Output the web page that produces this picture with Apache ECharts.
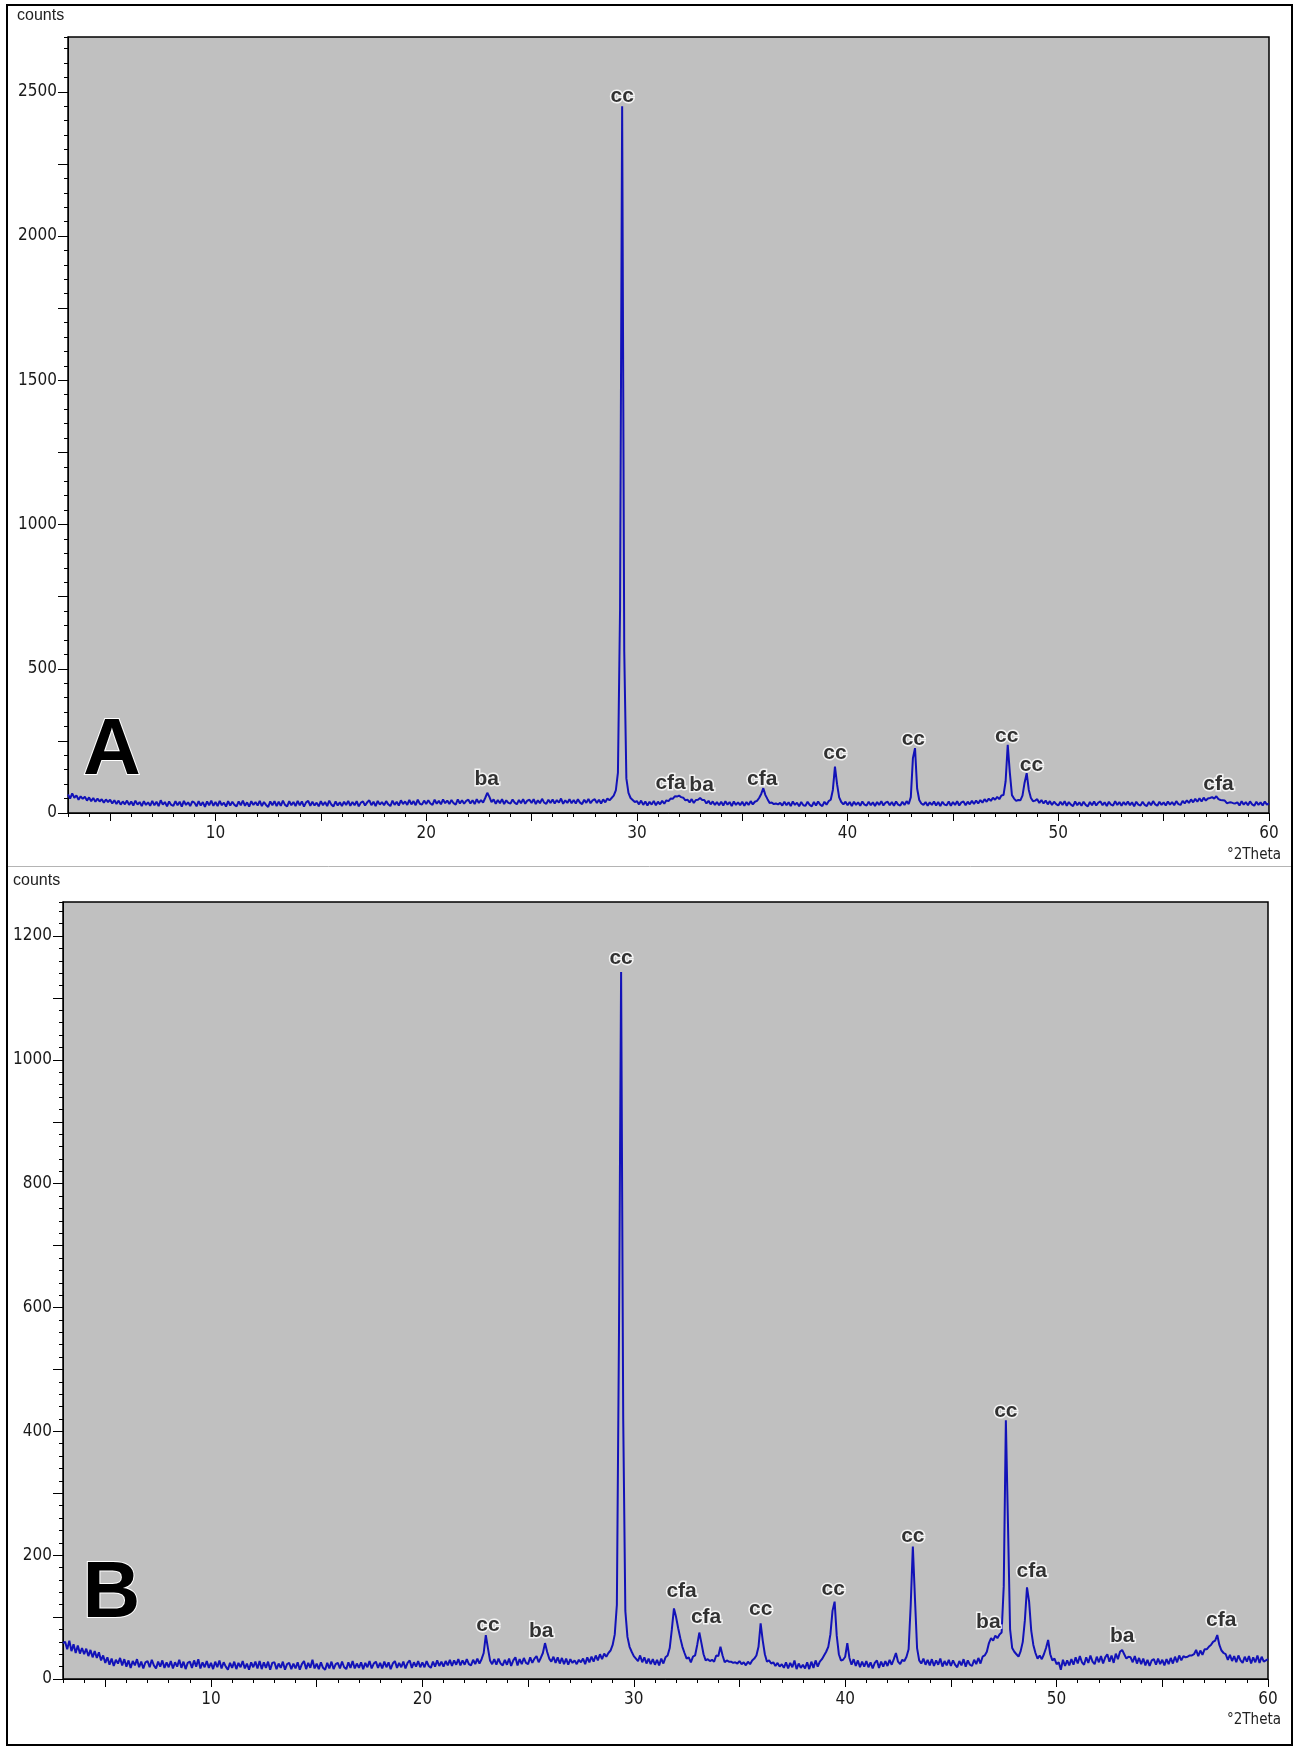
<!DOCTYPE html>
<html><head><meta charset="utf-8">
<script src="https://cdn.jsdelivr.net/npm/echarts@6/dist/echarts.min.js"></script>
<style>html,body{margin:0;padding:0;background:#fff}#c{width:1298px;height:1749px}</style>
</head><body><div id="c"></div><script>
// 2theta step-scan grid (degrees)
const twoThetaStart = 3.0;
const twoThetaStep = 0.1;

// Panel A counts, 3.0 .. 60.0 in 0.1 deg steps (one row per degree)
const countsA = [
64,50,68,53,61,46,58,49,56,43,
54,41,52,39,50,40,48,36,47,38,
46,33,44,31,43,29,40,30,43,28,
40,26,43,29,38,24,41,28,37,25,
42,27,39,24,44,29,38,23,40,28,
25,41,27,39,22,42,28,37,24,40,
36,23,41,26,38,21,40,27,43,25,
38,24,42,27,36,22,41,26,39,28,
23,40,27,43,25,37,22,41,28,38,
26,42,24,38,28,21,40,27,41,24,
39,25,43,28,23,41,27,38,24,42,
27,40,22,37,42,25,39,26,36,23,
41,27,38,24,43,29,23,40,26,37,
24,39,28,42,25,38,27,41,23,36,
40,26,37,44,27,39,24,42,29,38,
27,41,30,24,43,28,39,26,44,31,
40,28,45,30,41,27,46,32,29,43,
31,44,33,28,46,32,42,30,47,34,
43,31,45,34,29,47,33,44,32,42,
46,33,44,31,48,35,45,36,52,70,
56,38,47,32,45,34,48,31,44,35,
33,47,36,30,45,34,48,32,43,46,
35,48,31,44,34,49,36,32,46,35,
47,33,45,36,50,32,44,35,48,34,
45,33,48,36,31,46,35,49,34,44,
48,35,46,33,47,37,50,44,52,60,
78,140,700,2450,560,120,70,52,45,38,
41,30,43,28,40,26,39,29,42,27,
39,30,42,32,44,41,50,49,58,57,
60,55,53,44,46,37,48,35,45,46,
52,45,45,33,42,30,40,28,38,27,
39,26,41,29,38,24,40,28,37,27,
39,25,38,28,41,30,39,42,52,66,
86,62,48,35,36,31,33,30,35,26,
39,27,37,24,40,28,36,23,38,27,
25,39,28,23,38,26,40,29,24,39,
29,41,46,80,161,100,54,38,30,39,
27,38,24,39,28,37,25,40,29,26,
39,27,37,24,38,28,41,26,36,39,
27,38,25,40,29,26,39,28,41,31,
55,190,225,85,45,33,28,38,25,37,
28,40,26,38,24,39,29,27,40,25,
38,28,41,26,37,40,27,39,30,42,
31,43,33,45,36,48,39,50,42,53,
46,56,48,61,62,110,236,140,62,50,
42,45,44,60,105,138,80,52,41,43,
48,35,45,33,43,30,41,28,39,31,
26,39,28,41,25,38,29,24,40,27,
37,25,39,28,23,38,27,40,26,36,
40,27,37,24,39,29,26,41,28,38,
25,38,28,40,27,37,23,39,29,26,
39,28,24,38,27,41,30,25,39,28,
37,26,40,29,38,27,41,31,28,42,
33,44,35,47,37,49,39,51,40,53,
43,50,52,55,50,58,48,45,44,43,
34,36,37,34,33,37,26,41,29,38,
27,40,30,25,39,28,37,26,40,29,
33
];

// Panel B counts, 3.0 .. 60.0 in 0.1 deg steps
const countsB = [
58,60,48,62,45,56,42,54,41,50,
40,49,37,47,35,45,34,43,30,38,
26,35,23,33,21,31,25,34,22,32,
20,30,18,29,22,32,19,28,17,27,
29,19,31,22,17,28,20,30,18,27,
19,29,17,27,20,31,18,28,16,26,
28,18,30,20,32,17,27,19,29,18,
26,16,28,19,30,17,27,20,15,26,
18,28,16,26,19,29,17,25,15,27,
19,28,17,29,16,27,18,28,15,26,
27,16,25,18,28,15,24,26,16,25,
17,27,15,24,29,16,26,18,31,17,
25,16,27,18,15,26,17,28,16,24,
26,17,28,19,16,27,18,29,17,25,
18,27,16,26,19,29,17,25,28,18,
26,17,28,19,27,16,25,29,18,26,
19,28,17,26,30,18,27,20,29,19,
27,19,29,21,18,28,20,30,21,28,
20,29,22,31,21,30,23,32,22,30,
23,32,24,22,31,24,33,25,32,42,
71,50,30,24,32,23,33,25,22,31,
23,33,21,30,35,22,32,24,34,26,
24,35,26,33,37,27,34,42,58,44,
33,28,36,26,35,25,34,24,33,23,
32,26,30,24,31,27,33,24,35,27,
36,28,38,30,40,32,41,36,42,46,
55,72,120,560,1142,420,110,68,52,44,
37,33,29,38,27,35,25,33,24,32,
23,31,22,33,25,35,38,50,80,114,
100,82,66,52,42,33,35,27,36,38,
55,75,58,40,30,32,29,31,28,38,
37,52,38,27,30,28,28,26,27,25,
29,24,27,22,28,24,30,33,38,52,
90,62,40,28,30,25,27,21,26,20,
24,18,27,17,26,19,30,16,25,18,
23,17,27,16,28,18,30,20,28,32,
38,44,52,72,110,125,70,40,30,31,
36,58,34,23,32,21,30,19,28,20,
29,19,27,17,26,30,18,28,20,29,
21,31,23,32,42,28,24,31,29,36,
48,120,214,130,50,30,25,33,23,31,
22,32,21,30,23,33,20,29,22,31,
21,30,23,19,29,22,32,20,30,23,
21,31,24,34,25,36,38,44,58,66,
62,70,66,72,75,150,418,250,80,50,
44,40,36,45,60,95,148,125,78,55,
42,33,38,32,40,50,63,40,30,33,
24,27,15,31,21,30,22,32,23,35,
25,37,27,23,35,26,38,28,24,36,
27,37,25,35,40,28,38,26,41,32,
44,47,40,33,36,35,27,37,25,34,
24,33,22,31,21,30,32,23,33,24,
31,22,32,24,34,25,36,27,38,30,
37,35,36,38,38,40,47,37,46,39,
48,48,52,55,60,62,71,55,46,42,
40,31,39,29,37,27,38,30,26,36,
28,37,25,35,27,38,26,36,28,30,
32
];

// Axis ticks / labels
const xTickValues = [5,10,15,20,25,30,35,40,45,50,55,60];
const xLabelValues = [10,20,30,40,50,60];
const yTickValuesA = [0,250,500,750,1000,1250,1500,1750,2000,2250,2500];
const yLabelValuesA = [0,500,1000,1500,2000,2500];
const yTickValuesB = [0,100,200,300,400,500,600,700,800,900,1000,1100,1200];
const yLabelValuesB = [0,200,400,600,800,1000,1200];
const yMaxA = 2690;
const yMaxB = 1255;

// Phase annotations (name, 2theta, counts at label centre)
const peakNamesA = ['ba','cc','cfa','ba','cfa','cc','cc','cc','cc','cfa'];
const peakLabelXA = [22.87,29.3,31.6,33.07,35.95,39.4,43.12,47.55,48.73,57.6];
const peakLabelYA = [118,2484,105,95,117,207,256,267,166,100];
const peakNamesB = ['cc','ba','cc','cfa','cfa','cc','cc','cc','ba','cc','cfa','ba','cfa'];
const peakLabelXB = [23.1,25.62,29.4,32.26,33.42,36.0,39.43,43.2,46.77,47.6,48.82,53.1,57.79];
const peakLabelYB = [87,77,1165,142,100,113,145,231,91,433,174,69,95];

const narrow = "'Liberation Sans Narrow','DejaVu Sans Condensed','Liberation Sans',sans-serif";
const sans = "'Liberation Sans',Arial,sans-serif";

function pts(arr){ return arr.map((v,i)=>[+(twoThetaStart+i*twoThetaStep).toFixed(2), v]); }
function labelPts(xs, ys, names){ return xs.map((x,i)=>[x, ys[i], names[i]]); }

const tickStyle = {color:'#000', width:1};
function mainX(grid){
  return {gridIndex:grid, type:'value', position:'bottom', min:3, max:60,
    axisLine:{show:true, onZero:false, lineStyle:{color:'#000', width:1}},
    axisTick:{show:true, customValues:xTickValues, length:8, lineStyle:tickStyle},
    axisLabel:{show:true, customValues:xLabelValues, margin:12, color:'#1a1a1a', fontSize:17, fontFamily:narrow, formatter:v=>String(v)},
    splitLine:{show:false}};
}
function minorX(grid){
  return {gridIndex:grid, type:'value', position:'bottom', min:3, max:60, interval:1,
    axisLine:{show:false, onZero:false},
    axisTick:{show:true, length:4, lineStyle:tickStyle},
    axisLabel:{show:false}, splitLine:{show:false}};
}
function mainY(grid, max, interval, ticks, labels){
  return {gridIndex:grid, type:'value', position:'left', min:0, max:max, interval:interval,
    axisLine:{show:true, onZero:false, lineStyle:{color:'#000', width:1}},
    axisTick:{show:true, customValues:ticks, length:10, lineStyle:tickStyle},
    axisLabel:{show:true, customValues:labels, margin:11, color:'#1a1a1a', fontSize:17, fontFamily:narrow, formatter:v=>String(v)},
    splitLine:{show:false}};
}
function minorY(grid, max, interval){
  return {gridIndex:grid, type:'value', position:'left', min:0, max:max, interval:interval,
    axisLine:{show:false, onZero:false},
    axisTick:{show:true, length:4, lineStyle:tickStyle},
    axisLabel:{show:false}, splitLine:{show:false}};
}
function labelSeries(xi, yi, data){
  return {type:'scatter', xAxisIndex:xi, yAxisIndex:yi, data:data, symbol:'circle', symbolSize:1,
    itemStyle:{color:'rgba(0,0,0,0)'}, z:6, silent:true,
    label:{show:true, position:'inside', formatter:p=>p.value[2], color:'#000',
      fontFamily:sans, fontWeight:'bold', fontSize:21, textBorderColor:'#fff', textBorderWidth:3}};
}
const traceStyle = {color:'#1212b8', width:2};

const chart = echarts.init(document.getElementById('c'), null, {renderer:'canvas'});
chart.setOption({
  animation:false,
  backgroundColor:'#fff',
  grid:[
    {left:68, top:37, width:1201, height:776, show:true, backgroundColor:'#c0c0c0', borderColor:'#000', borderWidth:1.5, containLabel:false},
    {left:63, top:902, width:1205, height:777, show:true, backgroundColor:'#c0c0c0', borderColor:'#000', borderWidth:1.5, containLabel:false}
  ],
  xAxis:[mainX(0), minorX(0), mainX(1), minorX(1)],
  yAxis:[mainY(0, yMaxA, 250, yTickValuesA, yLabelValuesA), minorY(0, yMaxA, 50),
         mainY(1, yMaxB, 100, yTickValuesB, yLabelValuesB), minorY(1, yMaxB, 20)],
  series:[
    {type:'line', xAxisIndex:0, yAxisIndex:0, data:pts(countsA), showSymbol:false, symbol:'none',
      lineStyle:traceStyle, z:3, silent:true, sampling:null},
    {type:'line', xAxisIndex:2, yAxisIndex:2, data:pts(countsB), showSymbol:false, symbol:'none',
      lineStyle:traceStyle, z:3, silent:true, sampling:null},
    labelSeries(0, 0, labelPts(peakLabelXA, peakLabelYA, peakNamesA)),
    labelSeries(2, 2, labelPts(peakLabelXB, peakLabelYB, peakNamesB))
  ],
  graphic:[
    {type:'rect', z:0, silent:true, shape:{x:7, y:5, width:1285, height:1740}, style:{fill:null, stroke:'#000', lineWidth:2}},
    {type:'line', z:0, silent:true, shape:{x1:8, y1:866.5, x2:1291, y2:866.5}, style:{stroke:'#b4b4b4', lineWidth:1}},
    {type:'text', z:10, silent:true, style:{x:17, y:16, text:'counts', font:"16px "+sans, fill:'#222', textVerticalAlign:'middle'}},
    {type:'text', z:10, silent:true, style:{x:13, y:881, text:'counts', font:"16px "+sans, fill:'#222', textVerticalAlign:'middle'}},
    {type:'text', z:10, silent:true, style:{x:1281, y:855, text:'°2Theta', font:"15px "+narrow, fill:'#222', textAlign:'right', textVerticalAlign:'middle'}},
    {type:'text', z:10, silent:true, style:{x:1281, y:1720, text:'°2Theta', font:"15px "+narrow, fill:'#222', textAlign:'right', textVerticalAlign:'middle'}},
    {type:'text', z:20, silent:true, style:{x:112, y:752, text:'A', font:"bold 80px "+sans, fill:'#000', stroke:'#fff', lineWidth:2, textAlign:'center', textVerticalAlign:'middle'}},
    {type:'text', z:20, silent:true, style:{x:111.5, y:1595, text:'B', font:"bold 80px "+sans, fill:'#000', stroke:'#fff', lineWidth:2, textAlign:'center', textVerticalAlign:'middle'}}
  ]
});
</script></body></html>
